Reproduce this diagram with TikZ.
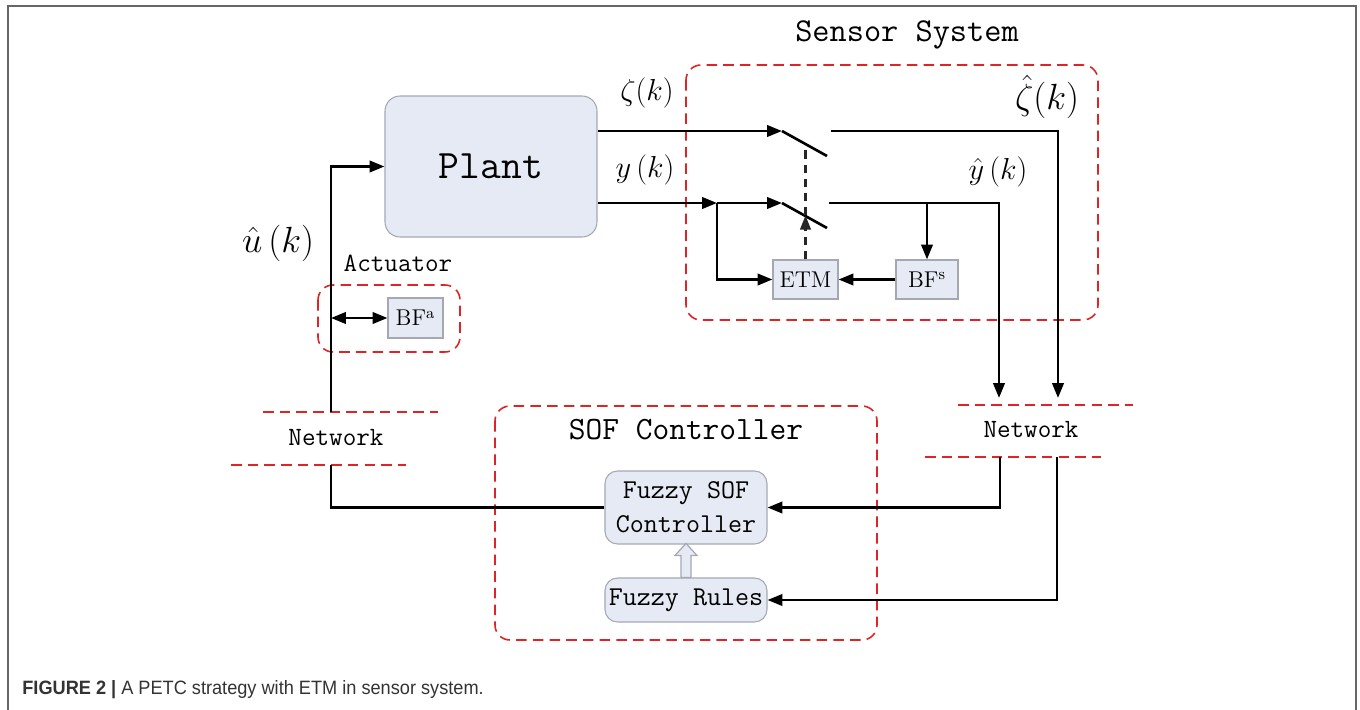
\documentclass[tikz,border=0pt]{standalone}
\usepackage{fontspec}
\newfontfamily\capfont{Liberation Sans}
\usetikzlibrary{arrows.meta}
\definecolor{boxfill}{RGB}{230,234,244}
\definecolor{dashred}{RGB}{222,36,36}
\definecolor{boxline}{RGB}{165,168,178}

\begin{document}
\begin{tikzpicture}[x=0.02cm, y=-0.02cm,
  sig/.style={line width=1.5pt},
  tip/.style={sig, -{Triangle[length=8.5pt,width=6.5pt]}},
  trig/.style={black!85, line width=1.3pt, dash pattern=on 5pt off 3pt},
  redbox/.style={draw=dashred, line width=0.9pt, dash pattern=on 6pt off 3.5pt, rounded corners=0.3cm},
  netline/.style={draw=dashred, line width=0.9pt, dash pattern=on 6pt off 3.5pt},
  block/.style={draw=boxline, fill=boxfill, line width=0.6pt, inner sep=0pt},
  mono/.style={font=\ttfamily\fontsize{#1}{#1}\selectfont},
  serifbox/.style={font=\rmfamily\fontsize{13}{13}\selectfont},
  lab/.style={font=\fontsize{#1}{20}\selectfont}]
\useasboundingbox (0,0) rectangle (1360,710);
% frame
\draw[gray!80!black, line width=1.1pt] (8,710) -- (8,6) -- (1356,6) -- (1356,710);
% dashed groups
\draw[redbox] (686,65) rectangle (1098,320);
\node[mono=19] (senstitle) at (907,35) {Sensor System};
\draw[redbox] (318,285) rectangle (460,352);
\node[mono=15] (acttitle) at (398,263) {Actuator};
\draw[redbox] (495,406) rectangle (877,640);
\node[mono=18.5] (softitle) at (686,430) {SOF Controller};
% networks
\draw[netline] (263,412) -- (438,412);
\draw[netline] (231,465) -- (406,465);
\node[mono=15] (netL) at (336,438) {Network};
\draw[netline] (958,405) -- (1133,405);
\draw[netline] (925,457) -- (1101,457);
\node[mono=15] (netR) at (1031,430) {Network};
% blocks
\node[block, rounded corners=0.3cm, minimum width=4.24cm, minimum height=2.82cm, mono=23] (plant) at (491,166.5) {Plant};
\node[block, minimum width=1.3cm, minimum height=0.78cm, serifbox] (etm) at (805.5,279.5) {ETM};
\node[block, minimum width=1.24cm, minimum height=0.78cm, serifbox] (bfs) at (927,279.5) {BF\textsuperscript{s}};
\node[block, minimum width=1.1cm, minimum height=0.8cm, serifbox] (bfa) at (415.5,318) {BF\textsuperscript{a}};
\node[block, rounded corners=0.25cm, minimum width=3.24cm, minimum height=1.46cm, align=center, mono=15.5] (fsof) at (686,507.5) {Fuzzy SOF\\[4pt]Controller};
\node[block, rounded corners=0.25cm, minimum width=3.24cm, minimum height=0.88cm, mono=15.5] (frules) at (686,600) {Fuzzy Rules};
% signal labels
\node[lab=17.28] (zeta) at (647,93) {$\zeta(k)$};
\node[lab=17.28] (yk) at (645,170) {$y\left(k\right)$};
\node[lab=20] (zetahat) at (1047,97) {$\hat{\zeta}(k)$};
\node[lab=17.28] (yhat) at (998,172) {$\hat{y}\left(k\right)$};
\node[lab=20] (uhat) at (278,243) {$\hat{u}\left(k\right)$};
% switch points
\coordinate (sw1in) at (782,131);
\coordinate (sw1out) at (831,131);
\coordinate (jn) at (717,203);
\coordinate (sw2in) at (782,203);
\coordinate (sw2out) at (829,203);
\coordinate (nr1top) at (999,398);
\coordinate (nr2top) at (1058,398);
\coordinate (nr1) at (1000,457);
\coordinate (nr2) at (1057,457);
\coordinate (nltop) at (331,412);
\coordinate (nlbot) at (331,465);
% sensor paths
\draw[tip] (plant.east |- sw1in) -- (sw1in);
\draw[sig] (sw1in) -- ++(45,25);
\draw[tip] (sw1out) -| (nr2top);
\draw[tip] (plant.east |- jn) -- (jn);
\draw[tip] (jn) -- (sw2in);
\draw[sig] (sw2in) -- ++(45,25);
\draw[tip] (sw2out) -| (nr1top);
\draw[tip] (bfs.north |- sw2out) -- (bfs.north);
\draw[tip] (bfs.west) -- (etm.east);
\draw[tip] (jn) |- (etm.west);
\draw[trig, -{Triangle[length=8pt,width=6pt]}] (etm.north) -- ++(0,-44);
\draw[trig] (etm.north) ++(0,-44) -- ++(0,-70);
% controller paths
\draw[tip] (nr1) |- (fsof.east);
\draw[tip] (nr2) |- (frules.east);
\draw[sig] (fsof.west) -| (nlbot);
\draw[tip] (nltop) |- (plant.west);
\draw[sig, {Triangle[length=8.5pt,width=6.5pt]}-{Triangle[length=8.5pt,width=6.5pt]}] (nltop |- bfa.west) -- (bfa.west);
% rules to controller
\draw[boxline, fill=boxfill, line width=0.7pt] (frules.north) ++(-5,0) -- ++(0,-22) -- ++(-6,0) -- ++(11,-12) -- ++(11,12) -- ++(-6,0) -- ++(0,22) -- cycle;
% caption
\node[anchor=west, inner sep=0pt, text=black!80] (caption) at (22,690) {\scalebox{0.94}[1]{\capfont\fontsize{11}{13}\selectfont\textbf{FIGURE 2 |} A PETC strategy with ETM in sensor system.}};
\end{tikzpicture}
\end{document}
